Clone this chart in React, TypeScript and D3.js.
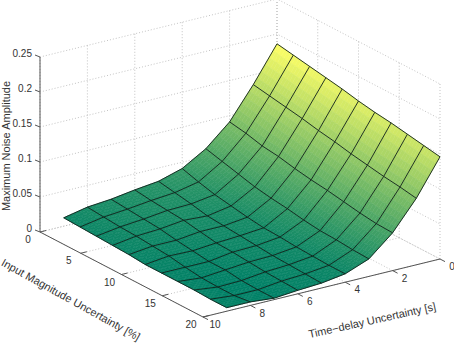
import * as d3 from "d3";

const W = 454;
const H = 345;

// input magnitude uncertainty [%] and time-delay uncertainty [s] of the grid
const inputGrid = [0, 2, 4, 6, 8, 10, 12, 14, 16, 18, 20];
const delayGrid = [0, 1, 2, 3, 4, 5, 6, 7, 8, 9];

// one row for each delay, one value for each input
const noise = [
  [0.186, 0.182, 0.178, 0.174, 0.17, 0.165, 0.161, 0.158, 0.154, 0.15, 0.146],
  [0.136, 0.132, 0.128, 0.124, 0.119, 0.115, 0.11, 0.106, 0.102, 0.099, 0.095],
  [0.091, 0.087, 0.081, 0.078, 0.073, 0.069, 0.066, 0.062, 0.058, 0.055, 0.054],
  [0.061, 0.055, 0.049, 0.043, 0.039, 0.036, 0.032, 0.029, 0.028, 0.026, 0.025],
  [0.041, 0.034, 0.028, 0.024, 0.02, 0.017, 0.016, 0.014, 0.013, 0.012, 0.012],
  [0.031, 0.027, 0.023, 0.018, 0.016, 0.014, 0.012, 0.01, 0.009, 0.008, 0.007],
  [0.027, 0.024, 0.022, 0.02, 0.016, 0.012, 0.011, 0.009, 0.007, 0.006, 0.005],
  [0.022, 0.02, 0.018, 0.016, 0.012, 0.009, 0.006, 0.006, 0.003, 0.002, 0.002],
  [0.019, 0.017, 0.015, 0.014, 0.012, 0.01, 0.006, 0.003, 0.002, 0.002, 0.005],
  [0.012, 0.011, 0.01, 0.009, 0.008, 0.006, 0.006, 0.006, 0.006, 0.005, 0.005],
];

const inputTicks = [0, 5, 10, 15, 20];
const delayTicks = [0, 2, 4, 6, 8, 10];
const noiseTicks = [0, 0.05, 0.1, 0.15, 0.2, 0.25];
const noiseTickLabels = ["0", "0.05", "0.1", "0.15", "0.2", "0.25"];

// oblique projection, one scale per screen direction
const inputX = d3.scaleLinear().domain([0, 20]).range([0, 163]);
const inputY = d3.scaleLinear().domain([0, 20]).range([0, 85]);
const delayX = d3.scaleLinear().domain([0, 10]).range([277, 40]);
const delayY = d3.scaleLinear().domain([0, 10]).range([174, 232]);
const noiseY = d3.scaleLinear().domain([0, 0.25]).range([0, -175]);

const project = (i: number, t: number, z: number): [number, number] => [
  inputX(i) + delayX(t),
  inputY(i) + delayY(t) + noiseY(z),
];

const pts = (p: [number, number][]) => p.map((q) => `${q[0].toFixed(2)},${q[1].toFixed(2)}`).join(" ");

const zExtent = d3.extent(noise.flat()) as [number, number];
const colour = d3
  .scaleLinear<string>()
  .domain(zExtent)
  .range(["rgb(0,128,102)", "rgb(255,255,102)"]);

const SUB = 6;

const App = () => {
  const patches: { p: string; c: string }[] = [];
  for (let r = 0; r < delayGrid.length - 1; r++) {
    for (let c = 0; c < inputGrid.length - 1; c++) {
      for (let a = 0; a < SUB; a++) {
        for (let b = 0; b < SUB; b++) {
          const at = (u: number, v: number): [number, number, number] => {
            const z =
              noise[r][c] * (1 - u) * (1 - v) +
              noise[r][c + 1] * u * (1 - v) +
              noise[r + 1][c] * (1 - u) * v +
              noise[r + 1][c + 1] * u * v;
            return [
              inputGrid[c] + (inputGrid[c + 1] - inputGrid[c]) * u,
              delayGrid[r] + (delayGrid[r + 1] - delayGrid[r]) * v,
              z,
            ];
          };
          const u0 = a / SUB;
          const u1 = (a + 1) / SUB;
          const v0 = b / SUB;
          const v1 = (b + 1) / SUB;
          const corners = [at(u0, v0), at(u1, v0), at(u1, v1), at(u0, v1)];
          patches.push({
            p: pts(corners.map((k) => project(k[0], k[1], k[2]))),
            c: colour(d3.mean(corners, (k) => k[2]) as number),
          });
        }
      }
    }
  }

  const gridStyle = { stroke: "#b4b4b4", strokeWidth: 0.8, strokeDasharray: "1 2", fill: "none" };
  const axisColour = "#555";
  const textColour = "#333";
  const line = (a: [number, number], b: [number, number], key: string, style: any) => (
    <line key={key} x1={a[0]} y1={a[1]} x2={b[0]} y2={b[1]} {...style} />
  );
  const zMax = 0.25;

  return (
    <svg
      width={W}
      height={H}
      style={{ position: "absolute", left: 0, top: 0, fontFamily: "'Liberation Sans', Arial, sans-serif" }}
    >
      <rect width={W} height={H} fill="#fff" />

      {/* walls and floor */}
      <g>
        {noiseTicks.map((z) => (
          <polyline
            key={`wall-${z}`}
            points={pts([project(0, 10, z), project(0, 0, z), project(20, 0, z)])}
            {...gridStyle}
          />
        ))}
        {delayTicks.map((t) =>
          line(project(0, t, 0), project(0, t, zMax), `dv-${t}`, gridStyle),
        )}
        {delayTicks.map((t) =>
          line(project(0, t, 0), project(20, t, 0), `df-${t}`, gridStyle),
        )}
        {inputTicks.map((i) =>
          line(project(i, 0, 0), project(i, 0, zMax), `iv-${i}`, gridStyle),
        )}
        {inputTicks.map((i) =>
          line(project(i, 0, 0), project(i, 10, 0), `if-${i}`, gridStyle),
        )}
      </g>

      {/* axes */}
      <g stroke={axisColour} strokeWidth={1} fill="none">
        <polyline points={pts([project(0, 10, zMax), project(0, 10, 0), project(20, 10, 0), project(20, 0, 0)])} />
        {noiseTicks.map((z) => {
          const [x, y] = project(0, 10, z);
          return <line key={z} x1={x} y1={y} x2={x - 5} y2={y - 2} />;
        })}
        {inputTicks.map((i) => {
          const [x, y] = project(i, 10, 0);
          return <line key={i} x1={x} y1={y} x2={x + 6} y2={y - 1.5} />;
        })}
        {delayTicks.map((t) => {
          const [x, y] = project(20, t, 0);
          return <line key={t} x1={x} y1={y} x2={x + 5} y2={y + 2.6} />;
        })}
      </g>

      {/* surface */}
      <g>
        {patches.map((d, idx) => (
          <polygon key={idx} points={d.p} fill={d.c} stroke={d.c} strokeWidth={0.5} />
        ))}
      </g>
      <g fill="none" stroke="#10201a" strokeWidth={0.9} strokeLinejoin="round">
        {delayGrid.map((t, r) => (
          <polyline key={t} points={pts(inputGrid.map((i, c) => project(i, t, noise[r][c])))} />
        ))}
        {inputGrid.map((i, c) => (
          <polyline key={i} points={pts(delayGrid.map((t, r) => project(i, t, noise[r][c])))} />
        ))}
      </g>

      {/* tick labels */}
      <g fill={textColour} fontSize={10}>
        {noiseTicks.map((z, k) => {
          const [x, y] = project(0, 10, z);
          return (
            <text key={z} x={x - 8} y={y - 3} textAnchor="end" dominantBaseline="middle">
              {noiseTickLabels[k]}
            </text>
          );
        })}
        {inputTicks.map((i) => {
          const [x, y] = project(i, 10, 0);
          return (
            <text key={i} x={x - 12} y={y + 8.5} textAnchor="middle" dominantBaseline="middle">
              {i}
            </text>
          );
        })}
        {delayTicks.map((t) => {
          const [x, y] = project(20, t, 0);
          return (
            <text key={t} x={x + 12} y={y + 8.5} textAnchor="middle" dominantBaseline="middle">
              {t}
            </text>
          );
        })}
      </g>

      {/* axis titles */}
      <g fill={textColour} fontSize={11} textAnchor="middle">
        <text transform="translate(9.5,146) rotate(-90)">Maximum Noise Amplitude</text>
        <text transform="translate(69,303) rotate(29)">Input Magnitude Uncertainty [%]</text>
        <text transform="translate(373,324) rotate(-12.5)">Time−delay Uncertainty [s]</text>
      </g>
    </svg>
  );
};

export default App;
